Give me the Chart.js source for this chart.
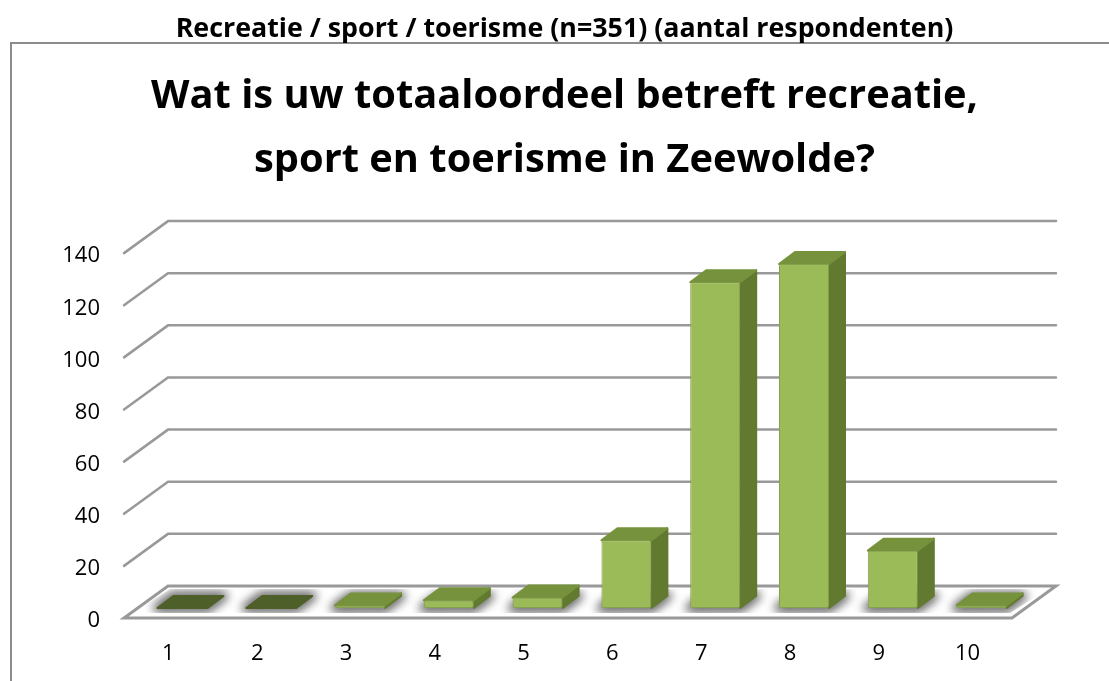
<!DOCTYPE html>
<html>
<head>
<meta charset="utf-8">
<title>Recreatie / sport / toerisme</title>
<script src="https://cdn.jsdelivr.net/npm/chart.js@4"></script>
<style>
    html, body { margin: 0; padding: 0; background: #fff; }
    #wrap { width: 1109px; height: 681px; }
</style>
</head>
<body>
<div id="wrap"><canvas id="chart" width="1109" height="681"></canvas></div>
<script>
var categories = ['1', '2', '3', '4', '5', '6', '7', '8', '9', '10'];
var respondents = [0, 0, 1, 3, 4, 26, 125, 132, 22, 1];
var yTicks = [0, 20, 40, 60, 80, 100, 120, 140];
var headingText = 'Recreatie / sport / toerisme (n=351) (aantal respondenten)';
var titleLines = ['Wat is uw totaaloordeel betreft recreatie,', 'sport en toerisme in Zeewolde?'];

var FONT = '"Open Sans", Lato, sans-serif';
// depth of the fake 3d floor and of the columns
var floorDX = 44, floorDY = -32;
var footDX = 14, footDY = -10;
var barDX = 16, barDY = -12;

function path(ctx, pts) {
    ctx.beginPath();
    ctx.moveTo(pts[0][0], pts[0][1]);
    for (var i = 1; i < pts.length; i++) {
        ctx.lineTo(pts[i][0], pts[i][1]);
    }
    ctx.closePath();
}

var frame3d = {
    id: 'frame3d',
    beforeDraw: function (chart) {
        var ctx = chart.ctx;
        ctx.save();
        ctx.strokeStyle = '#8c8c8c';
        ctx.lineWidth = 2;
        ctx.beginPath();
        ctx.moveTo(11, 681);
        ctx.lineTo(11, 43);
        ctx.lineTo(1109, 43);
        ctx.stroke();
        ctx.restore();
    },
    beforeDatasetsDraw: function (chart) {
        var ctx = chart.ctx, y = chart.scales.y, a = chart.chartArea;
        var zero = y.getPixelForValue(0);
        var floor = [
            [a.left, zero], [a.right, zero],
            [a.right + floorDX, zero + floorDY], [a.left + floorDX, zero + floorDY]
        ];
        ctx.save();
        ctx.lineCap = 'round';

        // grid lines on the back wall, with the little diagonal on the left
        yTicks.forEach(function (t) {
            if (t === 0) return;
            var py = y.getPixelForValue(t);
            ctx.beginPath();
            ctx.moveTo(a.left, py);
            ctx.lineTo(a.left + floorDX, py + floorDY);
            ctx.lineTo(a.right + floorDX, py + floorDY);
            ctx.strokeStyle = '#999999';
            ctx.lineWidth = 2.5;
            ctx.stroke();
        });

        // floor
        path(ctx, floor);
        ctx.fillStyle = '#ffffff';
        ctx.fill();
        ctx.strokeStyle = '#999999';
        ctx.lineWidth = 3;
        ctx.stroke();

        // soft shadow round each foot, kept inside the floor
        ctx.save();
        path(ctx, [
            [a.left + 8, zero - 5], [a.right - 2, zero - 5],
            [a.right + floorDX - 8, zero + floorDY + 3], [a.left + floorDX + 2, zero + floorDY + 3]
        ]);
        ctx.clip();
        ctx.filter = 'blur(5px)';
        var els = chart.getDatasetMeta(0).data;
        els.forEach(function (el) {
            var p = el.getProps(['x', 'width', 'base'], true);
            var l = p.x - p.width / 2 + footDX, r = p.x + p.width / 2 + footDX, b = p.base + footDY;
            path(ctx, [[l, b], [r, b], [r + barDX, b + barDY], [l + barDX, b + barDY]]);
            ctx.fillStyle = ctx.strokeStyle = '#7a7a7a';
            ctx.lineWidth = 10;
            ctx.lineJoin = 'round';
            ctx.fill();
            ctx.stroke();
        });
        ctx.restore();
        ctx.restore();
    },
    beforeDatasetDraw: function (chart, args) {
        var ctx = chart.ctx;
        var meta = chart.getDatasetMeta(args.index);
        ctx.save();
        ctx.translate(footDX, footDY);
        // side and top faces, the library draws the front face on top of them
        meta.data.forEach(function (el, i) {
            var p = el.getProps(['x', 'y', 'width', 'base'], true);
            var l = p.x - p.width / 2, r = p.x + p.width / 2;
            ctx.lineJoin = 'round';
            ctx.lineWidth = 2;
            path(ctx, [[r, p.y], [r + barDX, p.y + barDY], [r + barDX, p.base + barDY], [r, p.base]]);
            ctx.fillStyle = ctx.strokeStyle = '#627a30';
            ctx.fill();
            ctx.stroke();
            path(ctx, [[l, p.y], [r, p.y], [r + barDX, p.y + barDY], [l + barDX, p.y + barDY]]);
            ctx.fillStyle = ctx.strokeStyle = respondents[i] === 0 ? '#4f5f2a' : '#76923c';
            ctx.fill();
            ctx.stroke();
        });
    },
    afterDatasetDraw: function (chart) {
        chart.ctx.restore();
    }
};

new Chart(document.getElementById('chart'), {
    type: 'bar',
    data: {
        labels: categories,
        datasets: [{
            data: respondents,
            backgroundColor: function (c) {
                return respondents[c.dataIndex] === 0 ? '#4f5f2a' : '#9bbb59';
            },
            borderColor: function (c) {
                return respondents[c.dataIndex] === 0 ? '#4f5f2a' : '#85a04f';
            },
            borderWidth: 1,
            borderRadius: 2,
            borderSkipped: false,
            barPercentage: 0.563,
            categoryPercentage: 1,
            clip: false
        }]
    },
    plugins: [frame3d],
    options: {
        responsive: false,
        animation: false,
        events: [],
        // left padding centres the titles a little right of the page middle
        layout: { padding: { left: 20 } },
        plugins: {
            legend: { display: false },
            tooltip: { enabled: false },
            title: {
                display: true,
                text: headingText,
                color: '#000000',
                font: { family: FONT, size: 26.8, weight: 'bold', lineHeight: 1.2 },
                padding: { top: 13, bottom: 7 }
            },
            subtitle: {
                display: true,
                text: titleLines,
                color: '#000000',
                font: { family: FONT, size: 39.8, weight: 'bold', lineHeight: 1.6 },
                padding: { top: 13, bottom: 60.6 }
            }
        },
        scales: {
            x: {
                grid: { display: false },
                border: { display: false },
                ticks: { color: '#000000', font: { family: FONT, size: 22 }, padding: 15, maxRotation: 0 },
                afterFit: function (s) { s.height = 63; }
            },
            y: {
                min: 0,
                max: 140,
                grid: { display: false, drawTicks: false },
                border: { display: false },
                ticks: { color: '#000000', font: { family: FONT, size: 22 }, stepSize: 20, padding: 24, labelOffset: 3 },
                afterFit: function (s) { s.width = 104; }
            },
            // empty axis, only keeps the gap on the right without moving the titles
            spacer: {
                type: 'linear',
                position: 'right',
                grid: { display: false, drawTicks: false },
                border: { display: false },
                ticks: { display: false },
                afterFit: function (s) { s.width = 97; }
            }
        }
    }
});
</script>
</body>
</html>
